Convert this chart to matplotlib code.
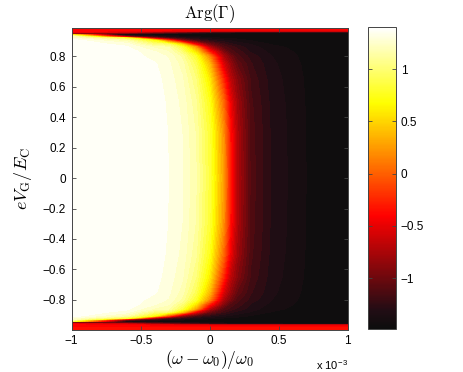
import numpy as np
import matplotlib
matplotlib.use("Agg")
import matplotlib.pyplot as plt
from matplotlib import cm, colors

plt.rcParams['font.family'] = ['Liberation Sans', 'DejaVu Sans']
plt.rcParams['mathtext.fontset'] = 'cm'

# x in units of 1e-3
x_cols = [-1.0, -0.6, -0.4, -0.3, -0.2, -0.1, 0.0, 0.1, 0.15, 0.2, 0.3, 0.45, 0.7, 1.0]
# rows of upper half (mirror for lower half)
y_rows_top = [0.995, 0.978, 0.966, 0.958, 0.947, 0.94, 0.93, 0.92, 0.905, 0.88, 0.86,
              0.83, 0.8, 0.75, 0.65, 0.5, 0.3, 0.0]
z_rows_top = [
    [-0.33, -0.33, -0.33, -0.33, -0.33, -0.33, -0.33, -0.33, -0.33, -0.33, -0.33, -0.33, -0.33, -0.33],
    [-0.38, -0.38, -0.38, -0.38, -0.38, -0.38, -0.38, -0.38, -0.38, -0.38, -0.38, -0.38, -0.38, -0.38],
    [-0.42, -0.45, -0.5, -0.52, -0.54, -0.56, -0.58, -0.6, -0.6, -0.6, -0.6, -0.6, -0.6, -0.6],
    [-0.5, -0.65, -0.9, -1.0, -1.1, -1.2, -1.3, -1.35, -1.38, -1.4, -1.42, -1.44, -1.45, -1.46],
    [-1.3, -1.42, -1.46, -1.46, -1.47, -1.47, -1.47, -1.48, -1.48, -1.48, -1.48, -1.48, -1.48, -1.48],
    [0.9, -1.35, -1.42, -1.45, -1.46, -1.47, -1.47, -1.48, -1.48, -1.48, -1.48, -1.48, -1.48, -1.48],
    [1.32, -0.96, -1.305, -1.353, -1.40, -1.431, -1.449, -1.46, -1.465, -1.47, -1.475, -1.478, -1.48, -1.48],
    [1.28, 0.79, -0.76, -1.132, -1.252, -1.329, -1.384, -1.422, -1.431, -1.44, -1.458, -1.47, -1.478, -1.48],
    [1.388, 1.15, 0.67, -0.08, -0.84, -1.156, -1.276, -1.338, -1.362, -1.386, -1.425, -1.453, -1.475, -1.478],
    [1.397, 1.31, 1.0, 0.94, 0.43, -0.468, -1.0, -1.204, -1.264, -1.31, -1.358, -1.424, -1.47, -1.475],
    [1.398, 1.354, 1.19, 1.15, 0.85, 0.25, -0.72, -1.12, -1.18, -1.24, -1.324, -1.396, -1.457, -1.475],
    [1.398, 1.385, 1.28, 1.215, 1.0, 0.55, -0.30, -0.92, -1.12, -1.18, -1.30, -1.372, -1.447, -1.475],
    [1.40, 1.388, 1.31, 1.267, 1.12, 0.79, 0.14, -0.76, -0.96, -1.132, -1.252, -1.353, -1.442, -1.475],
    [1.40, 1.392, 1.349, 1.292, 1.176, 0.91, 0.37, -0.552, -0.84, -1.04, -1.216, -1.338, -1.435, -1.475],
    [1.40, 1.396, 1.365, 1.313, 1.22, 1.015, 0.58, -0.245, -0.678, -0.90, -1.174, -1.322, -1.428, -1.475],
    [1.40, 1.397, 1.376, 1.328, 1.254, 1.09, 0.73, 0.03, -0.468, -0.80, -1.144, -1.31, -1.424, -1.475],
    [1.40, 1.397, 1.383, 1.337, 1.273, 1.135, 0.82, 0.195, -0.342, -0.74, -1.126, -1.302, -1.421, -1.475],
    [1.40, 1.397, 1.385, 1.34, 1.28, 1.15, 0.85, 0.25, -0.30, -0.72, -1.12, -1.30, -1.42, -1.475],
]

x_ticks = [-1, -0.5, 0, 0.5, 1]
x_ticklabels = ['\u22121', '\u22120.5', '0', '0.5', '1']
y_ticks = [-0.8, -0.6, -0.4, -0.2, 0, 0.2, 0.4, 0.6, 0.8]
y_ticklabels = ['\u22120.8', '\u22120.6', '\u22120.4', '\u22120.2', '0', '0.2', '0.4', '0.6', '0.8']
c_ticks = [-1, -0.5, 0, 0.5, 1]
c_ticklabels = ['\u22121', '\u22120.5', '0', '0.5', '1']
c_min, c_max = -1.485, 1.40

# MATLAB-like "hot" colormap with a neutral near-black bottom
cmap = colors.LinearSegmentedColormap.from_list('hot_ml', [
    (0.0, (0.05, 0.05, 0.05)),
    (0.06, (0.13, 0.05, 0.08)),
    (0.375, (1.0, 0.0, 0.0)),
    (0.75, (1.0, 1.0, 0.0)),
    (1.0, (1.0, 1.0, 1.0)),
], N=256)

yt = np.array(y_rows_top)
zt = np.array(z_rows_top)
# build full grid (upper half + mirrored lower half), ascending in y
y_full = np.concatenate([-yt, yt[-2::-1]])
z_full = np.vstack([zt, zt[-2::-1]])

fig = plt.figure(figsize=(4.63, 3.72), dpi=100)
W, H = 463, 372
ax = fig.add_axes([71.7 / W, 1 - 329.5 / H, (347.7 - 71.7) / W, (329.5 - 27.5) / H])
cax = fig.add_axes([368.3 / W, 1 - 329.0 / H, (395.7 - 368.3) / W, (329.0 - 27.3) / H])

norm = colors.Normalize(vmin=c_min, vmax=c_max)
levels = np.linspace(c_min, 1.405, 45)
ax.contourf(x_cols, y_full, z_full, levels=levels, cmap=cmap, norm=norm)

ax.set_xlim(-1, 1)
ax.set_ylim(-0.995, 0.99)
ax.set_xticks(x_ticks)
ax.set_xticklabels(x_ticklabels)
ax.set_yticks(y_ticks)
ax.set_yticklabels(y_ticklabels)
ax.tick_params(direction='in', top=True, right=True, length=3, width=0.6,
               labelsize=8.5, pad=4, color='#444444')
for s in ax.spines.values():
    s.set_color('#444444')
    s.set_linewidth(0.7)

ax.set_title(r'$\mathrm{Arg}(\Gamma)$', fontsize=12, pad=7)
ax.set_xlabel(r'$(\omega-\omega_0)/\omega_0$', fontsize=12.5, labelpad=1)
ax.set_ylabel(r'$eV_\mathrm{G}/E_\mathrm{C}$', fontsize=13, labelpad=6)
ax.text(1.0, -0.095, r'x 10$^{\mathregular{-3}}$', transform=ax.transAxes,
        ha='right', va='top', fontsize=8)

sm = cm.ScalarMappable(norm=norm, cmap=cmap)
cb = fig.colorbar(sm, cax=cax)
cb.set_ticks(c_ticks)
cb.set_ticklabels(c_ticklabels)
cax.tick_params(direction='in', left=True, right=True, length=3, width=0.6,
                labelsize=8.5, color='#444444')
cb.outline.set_edgecolor('#444444')
cb.outline.set_linewidth(0.7)

fig.savefig('out.png', dpi=100)
